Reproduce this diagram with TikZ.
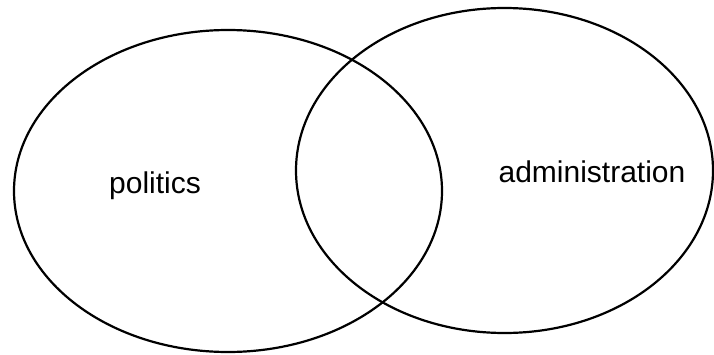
\documentclass[tikz,border=0pt]{standalone}
\usepackage{fontspec}
\setmainfont{Liberation Sans}
\usetikzlibrary{shapes.geometric}

\begin{document}
\begin{tikzpicture}[
    x=1pt, y=1pt,
    setellipse/.style={draw, ellipse, line width=2.2pt, inner sep=0pt},
    setlabel/.style={font=\fontsize{30}{36}\selectfont, anchor=base, inner sep=0pt},
]
    \useasboundingbox (0,0) rectangle (714,354);
    \node[setellipse, minimum width=428pt, minimum height=322pt] (pol) at (228,163) {};
    \node[setellipse, minimum width=417pt, minimum height=325pt] (adm) at (504.5,183.5) {};
    \node[setlabel] (poltext) at (155,161) {politics};
    \node[setlabel] (admtext) at (592,172) {administration};
\end{tikzpicture}
\end{document}
